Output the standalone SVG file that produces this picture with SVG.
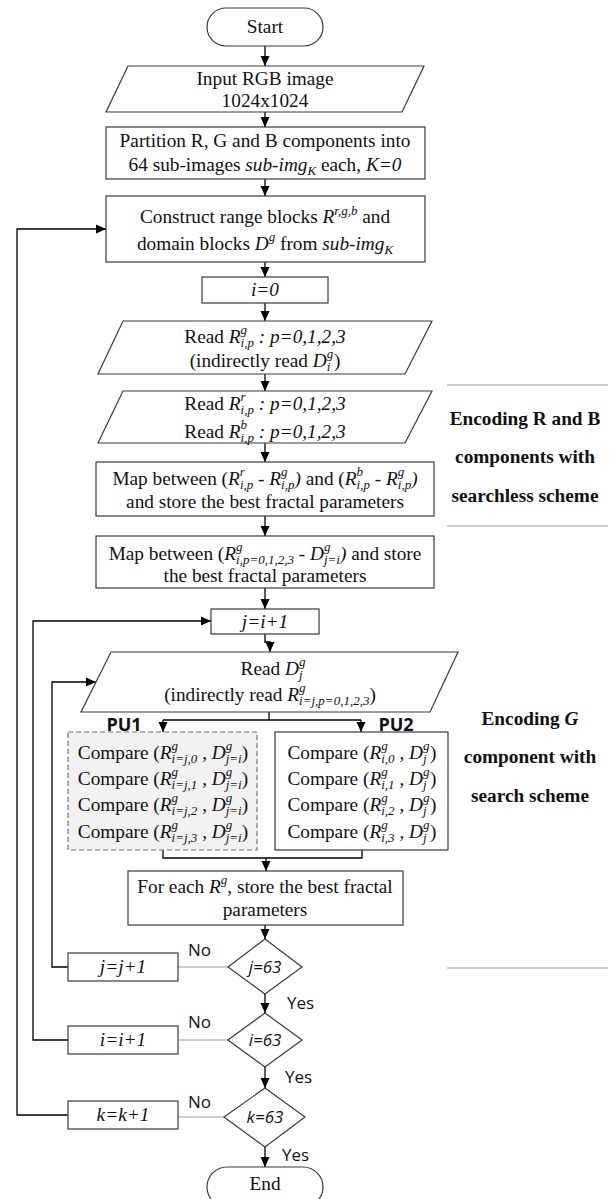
<svg xmlns="http://www.w3.org/2000/svg" width="616" height="1199" viewBox="0 0 616 1199">
<style>
.n{fill:#fff;stroke:#3a3a3a;stroke-width:1.2}
.pu1{fill:#f2f2f2;stroke:#707070;stroke-width:1.2;stroke-dasharray:5,3}
.t{font-family:"Liberation Serif",serif;font-size:19.3px;text-anchor:middle;fill:#111}
.i{font-style:italic}
.s{font-size:13px}
.b{font-weight:bold}
.sans{font-family:"Open Sans","DejaVu Sans",sans-serif;font-size:17px;fill:#111}
.pu{font-family:"Open Sans","DejaVu Sans",sans-serif;font-size:18px;font-weight:bold;fill:#111;text-anchor:middle}
.c{fill:none;stroke:#000;stroke-width:1.3}
.a{marker-end:url(#ah)}
.g{fill:none;stroke:#9a9a9a;stroke-width:1.2}
</style>
<defs>
<marker id="ah" viewBox="0 0 10 10" refX="10" refY="5" markerWidth="10" markerHeight="10" markerUnits="userSpaceOnUse" orient="auto">
<path d="M0,0.5 L10,5 L0,9.5 Z" fill="#000"/>
</marker>
</defs>

<g id="connectors">
<path class="c a" d="M265,46 V66"/>
<path class="c a" d="M265,112 V127"/>
<path class="c a" d="M265,179 V196"/>
<path class="c a" d="M265,262 V277"/>
<path class="c a" d="M265,303 V321"/>
<path class="c a" d="M265,374 V391"/>
<path class="c a" d="M265,443 V462"/>
<path class="c a" d="M265,516 V536"/>
<path class="c a" d="M265,588 V609"/>
<path class="c a" d="M265,634 V642 H270 V652"/>
<path class="c" d="M269,712 V720 M163,720 H361"/>
<path class="c a" d="M163,720 V732"/>
<path class="c a" d="M361,720 V732"/>
<path class="c" d="M163,850 V858 H362 V850"/>
<path class="c a" d="M266,858 V871"/>
<path class="c a" d="M265,925 V939"/>
<path class="c a" d="M265,994 V1013"/>
<path class="c a" d="M265,1067 V1088"/>
<path class="c a" d="M265,1147 V1167"/>
<path class="g" d="M228,967 H178"/>
<path class="g" d="M228,1040 H178"/>
<path class="g" d="M224,1117 H178"/>
<path class="c a" d="M68,967 H52 V682 H96"/>
<path class="c a" d="M68,1040 H33 V621 H211"/>
<path class="c a" d="M68,1115 H17 V229 H106"/>
<text class="sans" x="188" y="956">No</text>
<text class="sans" x="188" y="1028">No</text>
<text class="sans" x="188" y="1108">No</text>
<text class="sans" x="287" y="1009">Yes</text>
<text class="sans" x="285" y="1083">Yes</text>
<text class="sans" x="282" y="1161">Yes</text>
</g>

<g id="start">
<rect class="n" x="207" y="8" width="116" height="38" rx="19"/>
<text class="t" x="265" y="33">Start</text>
</g>

<g id="input">
<polygon class="n" points="128,66 424,66 402,112 106,112"/>
<text class="t" x="265" y="85">Input RGB image</text>
<text class="t" x="265" y="107">1024x1024</text>
</g>

<g id="partition">
<rect class="n" x="106" y="127" width="319" height="52"/>
<text class="t" x="265" y="147">Partition R, G and B components into</text>
<text class="t" x="265" y="171">64 sub-images <tspan class="i">sub-img</tspan><tspan class="i s" dy="4">K</tspan><tspan dy="-4"> each, </tspan><tspan class="i">K=0</tspan></text>
</g>

<g id="construct">
<rect class="n" x="106" y="196" width="319" height="66"/>
<text class="t" x="265" y="223">Construct range blocks <tspan class="i">R</tspan><tspan class="i s" dy="-8">r,g,b</tspan><tspan dy="8"> and</tspan></text>
<text class="t" x="265" y="250">domain blocks <tspan class="i">D</tspan><tspan class="i s" dy="-9">g</tspan><tspan dy="9"> from </tspan><tspan class="i">sub-img</tspan><tspan class="i s" dy="4">K</tspan></text>
</g>

<g id="i0">
<rect class="n" x="202" y="277" width="126" height="26"/>
<text class="t i" x="265" y="296">i=0</text>
</g>

<g id="readRg">
<polygon class="n" points="123,321 432,321 405,374 98,374"/>
<text class="t" x="265" y="343">Read <tspan class="i">R</tspan><tspan class="i s" dy="-9">g</tspan><tspan class="i s" dx="-6.5" dy="13">i,p</tspan><tspan class="i" dy="-4"> : p=0,1,2,3</tspan></text>
<text class="t" x="265" y="367">(indirectly read <tspan class="i">D</tspan><tspan class="i s" dy="-9">g</tspan><tspan class="i s" dx="-6.5" dy="13">i</tspan><tspan dx="3.5" dy="-4">)</tspan></text>
</g>

<g id="readRrb">
<polygon class="n" points="123,391 432,391 405,443 98,443"/>
<text class="t" x="265" y="410">Read <tspan class="i">R</tspan><tspan class="i s" dy="-9">r</tspan><tspan class="i s" dx="-5" dy="13">i,p</tspan><tspan class="i" dy="-4">  : p=0,1,2,3</tspan></text>
<text class="t" x="265" y="438">Read <tspan class="i">R</tspan><tspan class="i s" dy="-9">b</tspan><tspan class="i s" dx="-6.5" dy="13">i,p</tspan><tspan class="i" dy="-4">  : p=0,1,2,3</tspan></text>
</g>

<g id="map1">
<rect class="n" x="96" y="462" width="338" height="54"/>
<text class="t" x="265" y="485">Map between (<tspan class="i">R</tspan><tspan class="i s" dy="-9">r</tspan><tspan class="i s" dx="-5" dy="13">i,p</tspan><tspan dy="-4"> - </tspan><tspan class="i">R</tspan><tspan class="i s" dy="-9">g</tspan><tspan class="i s" dx="-6.5" dy="13">i,p</tspan><tspan class="i" dy="-4">)</tspan> and (<tspan class="i">R</tspan><tspan class="i s" dy="-9">b</tspan><tspan class="i s" dx="-6.5" dy="13">i,p</tspan><tspan dy="-4"> - </tspan><tspan class="i">R</tspan><tspan class="i s" dy="-9">g</tspan><tspan class="i s" dx="-6.5" dy="13">i,p</tspan><tspan class="i" dy="-4">)</tspan></text>
<text class="t" x="265" y="508">and store the best fractal parameters</text>
</g>

<g id="map2">
<rect class="n" x="96" y="536" width="338" height="52"/>
<text class="t" x="265" y="560">Map between (<tspan class="i">R</tspan><tspan class="i s" dy="-9">g</tspan><tspan class="i s" dx="-6.5" dy="13">i,p=0,1,2,3</tspan><tspan dy="-4"> - </tspan><tspan class="i">D</tspan><tspan class="i s" dy="-9">g</tspan><tspan class="i s" dx="-6.5" dy="13">j=i</tspan><tspan class="i" dy="-4">)</tspan> and store</text>
<text class="t" x="265" y="582">the best fractal parameters</text>
</g>

<g id="ji1">
<rect class="n" x="211" y="609" width="108" height="25"/>
<text class="t i" x="265" y="628">j=i+1</text>
</g>

<g id="readDj">
<polygon class="n" points="111,652 458,652 430,712 81,712"/>
<text class="t" x="273" y="675">Read <tspan class="i">D</tspan><tspan class="i s" dy="-9">g</tspan><tspan class="i s" dx="-6.5" dy="13">j</tspan></text>
<text class="t" x="270" y="701">(indirectly read <tspan class="i">R</tspan><tspan class="i s" dy="-9">g</tspan><tspan class="i s" dx="-6.5" dy="13">i=j,p=0,1,2,3</tspan><tspan dy="-4">)</tspan></text>
</g>

<g id="pu1">
<rect class="pu1" x="68" y="732" width="189" height="118"/>
<text class="pu" x="124" y="731">PU1</text>
<text class="t" x="163" y="759">Compare (<tspan class="i">R</tspan><tspan class="i s" dy="-9">g</tspan><tspan class="i s" dx="-6.5" dy="13">i=j,0</tspan><tspan dy="-4"> , </tspan><tspan class="i">D</tspan><tspan class="i s" dy="-9">g</tspan><tspan class="i s" dx="-6.5" dy="13">j=i</tspan><tspan dy="-4">)</tspan></text>
<text class="t" x="163" y="785">Compare (<tspan class="i">R</tspan><tspan class="i s" dy="-9">g</tspan><tspan class="i s" dx="-6.5" dy="13">i=j,1</tspan><tspan dy="-4"> , </tspan><tspan class="i">D</tspan><tspan class="i s" dy="-9">g</tspan><tspan class="i s" dx="-6.5" dy="13">j=i</tspan><tspan dy="-4">)</tspan></text>
<text class="t" x="163" y="811">Compare (<tspan class="i">R</tspan><tspan class="i s" dy="-9">g</tspan><tspan class="i s" dx="-6.5" dy="13">i=j,2</tspan><tspan dy="-4"> , </tspan><tspan class="i">D</tspan><tspan class="i s" dy="-9">g</tspan><tspan class="i s" dx="-6.5" dy="13">j=i</tspan><tspan dy="-4">)</tspan></text>
<text class="t" x="163" y="838">Compare (<tspan class="i">R</tspan><tspan class="i s" dy="-9">g</tspan><tspan class="i s" dx="-6.5" dy="13">i=j,3</tspan><tspan dy="-4"> , </tspan><tspan class="i">D</tspan><tspan class="i s" dy="-9">g</tspan><tspan class="i s" dx="-6.5" dy="13">j=i</tspan><tspan dy="-4">)</tspan></text>
</g>

<g id="pu2">
<rect class="n" x="275" y="732" width="173" height="118"/>
<text class="pu" x="396" y="731">PU2</text>
<text class="t" x="362" y="759">Compare (<tspan class="i">R</tspan><tspan class="i s" dy="-9">g</tspan><tspan class="i s" dx="-6.5" dy="13">i,0</tspan><tspan dy="-4"> , </tspan><tspan class="i">D</tspan><tspan class="i s" dy="-9">g</tspan><tspan class="i s" dx="-6.5" dy="13">j</tspan><tspan dx="3.5" dy="-4">)</tspan></text>
<text class="t" x="362" y="785">Compare (<tspan class="i">R</tspan><tspan class="i s" dy="-9">g</tspan><tspan class="i s" dx="-6.5" dy="13">i,1</tspan><tspan dy="-4"> , </tspan><tspan class="i">D</tspan><tspan class="i s" dy="-9">g</tspan><tspan class="i s" dx="-6.5" dy="13">j</tspan><tspan dx="3.5" dy="-4">)</tspan></text>
<text class="t" x="362" y="811">Compare (<tspan class="i">R</tspan><tspan class="i s" dy="-9">g</tspan><tspan class="i s" dx="-6.5" dy="13">i,2</tspan><tspan dy="-4"> , </tspan><tspan class="i">D</tspan><tspan class="i s" dy="-9">g</tspan><tspan class="i s" dx="-6.5" dy="13">j</tspan><tspan dx="3.5" dy="-4">)</tspan></text>
<text class="t" x="362" y="838">Compare (<tspan class="i">R</tspan><tspan class="i s" dy="-9">g</tspan><tspan class="i s" dx="-6.5" dy="13">i,3</tspan><tspan dy="-4"> , </tspan><tspan class="i">D</tspan><tspan class="i s" dy="-9">g</tspan><tspan class="i s" dx="-6.5" dy="13">j</tspan><tspan dx="3.5" dy="-4">)</tspan></text>
</g>

<g id="foreach">
<rect class="n" x="128" y="871" width="275" height="54"/>
<text class="t" x="265" y="893">For each <tspan class="i">R</tspan><tspan class="i s" dy="-9">g</tspan><tspan dy="9">, store the best fractal</tspan></text>
<text class="t" x="265" y="916">parameters</text>
</g>

<g id="d_j63">
<polygon class="n" points="265,939 302,967 265,994 228,967"/>
<text class="sans" x="265" y="973" font-style="italic" text-anchor="middle">j=63</text>
</g>
<g id="jj1">
<rect class="n" x="68" y="953" width="110" height="28"/>
<text class="t i" x="123" y="973">j=j+1</text>
</g>

<g id="d_i63">
<polygon class="n" points="265,1013 302,1040 265,1067 228,1040"/>
<text class="sans" x="265" y="1046" font-style="italic" text-anchor="middle">i=63</text>
</g>
<g id="ii1">
<rect class="n" x="68" y="1026" width="110" height="28"/>
<text class="t i" x="123" y="1046">i=i+1</text>
</g>

<g id="d_k63">
<polygon class="n" points="265,1088 305,1117 265,1147 224,1117"/>
<text class="sans" x="265" y="1123" font-style="italic" text-anchor="middle">k=63</text>
</g>
<g id="kk1">
<rect class="n" x="68" y="1101" width="110" height="28"/>
<text class="t i" x="123" y="1121">k=k+1</text>
</g>

<g id="end">
<rect class="n" x="207" y="1167" width="116" height="40" rx="20"/>
<text class="t" x="265" y="1190">End</text>
</g>

<g id="labels">
<path class="g" d="M447,385 H608 M447,526 H608 M447,968 H608"/>
<text class="t b" x="525" y="425">Encoding R and B</text>
<text class="t b" x="525" y="463">components with</text>
<text class="t b" x="525" y="502">searchless scheme</text>
<text class="t b" x="530" y="725">Encoding <tspan class="i">G</tspan></text>
<text class="t b" x="530" y="763">component with</text>
<text class="t b" x="530" y="802">search scheme</text>
</g>
</svg>
